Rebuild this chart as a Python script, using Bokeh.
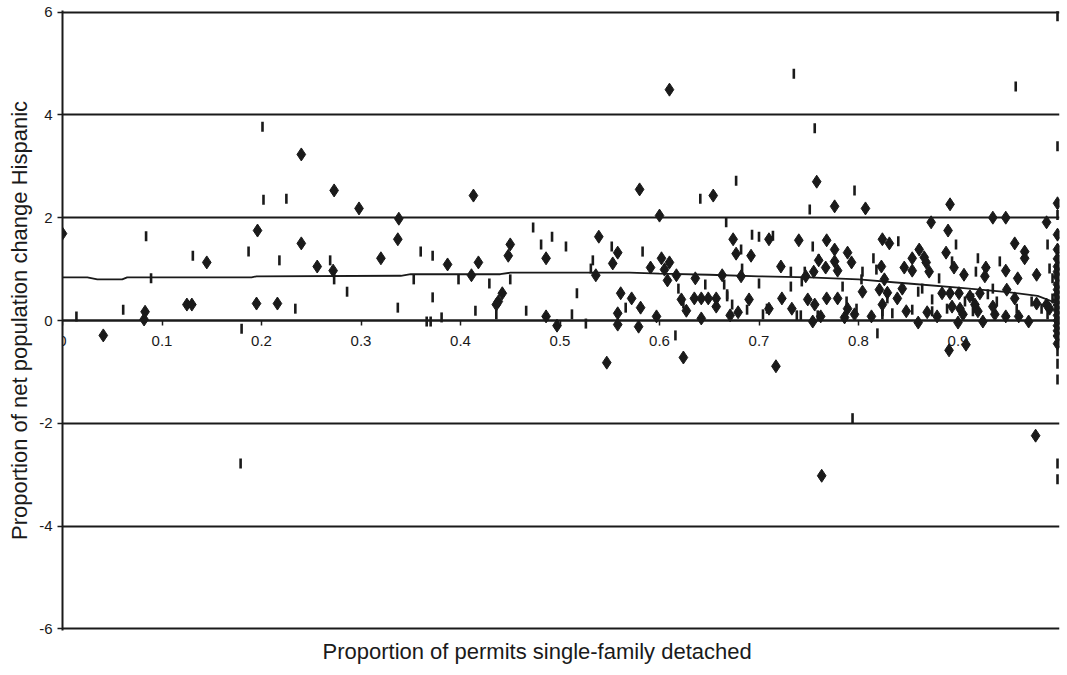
from bokeh.plotting import figure
from bokeh.models import Range1d, FixedTicker, LinearAxis, Title, Grid
from bokeh.embed import file_html
from bokeh.resources import INLINE
import numpy as np

# ---- data ----
diamond_x = [0.000, 0.041, 0.083, 0.082, 0.125, 0.130, 0.145, 0.196, 0.195, 0.216,
             0.240, 0.240, 0.273, 0.298, 0.338, 0.337, 0.320, 0.256, 0.272, 0.387,
             0.413, 0.418, 0.411, 0.450, 0.448, 0.442, 0.438, 0.436, 0.486, 0.486,
             0.497, 0.539, 0.536, 0.580, 0.654, 0.600, 0.610, 0.558, 0.553, 0.602,
             0.610, 0.591, 0.605, 0.608, 0.617, 0.561, 0.572, 0.581, 0.558, 0.558,
             0.579, 0.597, 0.636, 0.663, 0.622, 0.627, 0.635, 0.642, 0.649, 0.657,
             0.657, 0.642, 0.624, 0.547, 0.758, 0.776, 0.807, 0.674, 0.677, 0.692,
             0.710, 0.740, 0.768, 0.776, 0.789, 0.793, 0.776, 0.722, 0.760, 0.767,
             0.779, 0.682, 0.747, 0.755, 0.690, 0.723, 0.749, 0.756, 0.768, 0.779,
             0.733, 0.710, 0.679, 0.671, 0.754, 0.762, 0.786, 0.796, 0.804, 0.813,
             0.824, 0.821, 0.823, 0.824, 0.826, 0.789, 0.717, 0.763, 0.892, 1.000,
             0.873, 0.935, 0.948, 0.989, 0.890, 1.000, 0.831, 0.957, 0.861, 0.888,
             0.967, 0.967, 0.854, 0.866, 0.868, 0.846, 0.854, 0.871, 0.896, 0.906,
             0.928, 0.927, 0.948, 0.979, 0.960, 0.844, 0.829, 0.839, 0.884, 0.892,
             0.901, 0.912, 0.922, 0.949, 0.957, 0.848, 0.869, 0.879, 0.894, 0.902,
             0.905, 0.917, 0.920, 0.925, 0.935, 0.937, 0.860, 0.900, 0.948, 0.961,
             0.971, 0.979, 0.989, 0.992, 0.891, 0.908, 0.978,
             1.000, 1.000, 1.000, 1.000, 1.000, 1.000, 1.000, 1.000, 1.000, 1.000,
             1.000, 1.000, 1.000, 1.000, 1.000, 1.000, 1.000]
diamond_y = [1.69, -0.29, 0.17, 0.02, 0.31, 0.31, 1.13, 1.75, 0.33, 0.33,
             3.23, 1.50, 2.53, 2.18, 1.98, 1.58, 1.21, 1.05, 0.97, 1.09,
             2.43, 1.13, 0.88, 1.48, 1.26, 0.53, 0.37, 0.31, 1.21, 0.08,
             -0.10, 1.63, 0.88, 2.55, 2.43, 2.04, 4.49, 1.32, 1.11, 1.21,
             1.13, 1.03, 0.99, 0.78, 0.88, 0.53, 0.43, 0.25, 0.14, -0.08,
             -0.12, 0.08, 0.82, 0.88, 0.41, 0.19, 0.43, 0.43, 0.43, 0.43,
             0.27, 0.04, -0.72, -0.82, 2.70, 2.22, 2.18, 1.58, 1.30, 1.26,
             1.58, 1.56, 1.56, 1.38, 1.32, 1.13, 1.15, 1.05, 1.17, 1.03,
             0.97, 0.86, 0.86, 0.95, 0.41, 0.43, 0.41, 0.31, 0.43, 0.43,
             0.23, 0.23, 0.16, 0.10, -0.02, 0.08, 0.06, 0.12, 0.56, 0.08,
             0.31, 0.60, 1.05, 1.58, 0.80, 0.23, -0.89, -3.02, 2.26, 2.28,
             1.91, 2.00, 2.00, 1.91, 1.75, 1.67, 1.50, 1.50, 1.38, 1.32,
             1.34, 1.21, 1.21, 1.23, 1.13, 1.03, 0.97, 0.95, 1.03, 0.89,
             1.03, 0.86, 0.97, 0.89, 0.82, 0.62, 0.54, 0.43, 0.53, 0.53,
             0.53, 0.47, 0.53, 0.60, 0.43, 0.18, 0.16, 0.08, 0.27, 0.23,
             0.12, 0.31, 0.18, -0.02, 0.27, 0.12, -0.04, -0.04, 0.08, 0.08,
             -0.02, 0.33, 0.31, 0.23, -0.58, -0.47, -2.24,
             1.38, 1.20, 1.05, 0.95, 0.85, 0.70, 0.60, 0.50, 0.40, 0.30,
             0.20, 0.10, 0.00, -0.10, -0.20, -0.30, -0.45]

dash_x = [0.014, 0.084, 0.061, 0.089, 0.131, 0.180, 0.187, 0.201, 0.202, 0.225,
          0.218, 0.234, 0.179, 0.269, 0.273, 0.286, 0.337, 0.353, 0.360, 0.372,
          0.372, 0.366, 0.370, 0.381, 0.398, 0.415, 0.429, 0.436, 0.450, 0.466,
          0.473, 0.481, 0.492, 0.506, 0.517, 0.512, 0.526, 0.533, 0.531, 0.552,
          0.583, 0.566, 0.616, 0.619, 0.624, 0.641, 0.646, 0.667, 0.665, 0.668,
          0.677, 0.751, 0.796, 0.693, 0.700, 0.714, 0.682, 0.683, 0.700, 0.732,
          0.732, 0.743, 0.746, 0.754, 0.760, 0.668, 0.673, 0.688, 0.704, 0.708,
          0.738, 0.742, 0.759, 0.784, 0.788, 0.788, 0.798, 0.803, 0.804, 0.815,
          0.818, 0.824, 0.819, 0.735, 0.958, 0.756, 0.794, 0.840, 0.898, 0.942,
          0.920, 0.894, 0.990, 0.860, 0.881, 0.874, 0.907, 0.915, 0.918, 0.935,
          0.939, 0.930, 0.834, 0.854, 0.874, 0.889, 0.915, 0.959, 0.974, 0.984,
          0.990, 0.995, 0.995, 0.992, 0.829, 0.824, 0.864,
          1.000, 1.000, 1.000, 1.000, 1.000, 1.000, 1.000, 1.000, 1.000, 1.000,
          1.000, 1.000]
dash_y = [0.08, 1.64, 0.21, 0.82, 1.26, -0.16, 1.34, 3.77, 2.35, 2.37,
          1.17, 0.23, -2.78, 1.17, 0.80, 0.56, 0.25, 0.80, 1.34, 1.26,
          0.45, -0.02, -0.02, 0.06, 0.80, 0.19, 0.72, 0.12, 0.80, 0.19,
          1.81, 1.48, 1.63, 1.44, 0.53, 0.12, -0.06, 1.17, 1.01, 1.44,
          1.34, 0.25, -0.29, 0.62, 0.33, 2.37, 0.70, 1.91, 0.70, 0.51,
          2.72, 2.16, 2.53, 1.67, 1.63, 1.65, 1.38, 1.01, 0.72, 0.95,
          0.66, 0.76, 0.95, 1.44, 1.19, 0.47, 0.31, 0.21, 0.12, 0.23,
          0.10, 0.10, 0.10, 0.66, 0.37, 0.12, 0.23, 0.80, 0.95, 1.21,
          0.99, 0.12, -0.25, 4.80, 4.55, 3.74, -1.90, 1.54, 1.48, 1.15,
          1.21, 1.15, 1.48, 0.56, 0.82, 0.41, 0.37, 0.43, 0.95, 0.62,
          0.37, 0.51, 0.14, 0.21, 0.18, 0.23, 0.18, 0.23, 0.37, 0.23,
          0.12, 0.43, 0.82, 1.01, 0.43, 0.18, 0.62,
          5.92, 3.39, 2.05, 1.34, 1.00, 0.60, 0.20, -0.60, -0.84, -1.15,
          -2.78, -3.09]

trend_x = [0.0, 0.025, 0.035, 0.06, 0.065, 0.19, 0.195, 0.34, 0.35, 0.44, 0.45,
           0.57, 0.60, 0.65, 0.70, 0.75, 0.80, 0.85, 0.90, 0.95, 0.98, 1.0]
trend_y = [0.84, 0.84, 0.80, 0.80, 0.84, 0.84, 0.86, 0.87, 0.90, 0.90, 0.93,
           0.93, 0.91, 0.89, 0.86, 0.84, 0.80, 0.72, 0.64, 0.55, 0.48, 0.33]

x_ticks = [0.0, 0.1, 0.2, 0.3, 0.4, 0.5, 0.6, 0.7, 0.8, 0.9]
x_tick_labels = ["0", "0.1", "0.2", "0.3", "0.4", "0.5", "0.6", "0.7", "0.8", "0.9"]
y_ticks = [-6, -4, -2, 0, 2, 4, 6]
y_tick_labels = ["-6", "-4", "-2", "0", "2", "4", "6"]

x_title = "Proportion of permits single-family detached"
y_title = "Proportion of net population change Hispanic"

FONT = "Liberation Sans"
INK = "#1a1a1a"

p = figure(width=1067, height=675, output_backend="svg", toolbar_location=None,
           x_range=Range1d(0, 1.002), y_range=Range1d(-6.03, 6.03),
           x_axis_location=None, y_axis_location=None,
           min_border_left=62, min_border_right=8, min_border_top=10, min_border_bottom=45)
p.outline_line_color = None
p.background_fill_color = "white"
p.border_fill_color = "white"
for g in p.grid:
    g.visible = False

ygrid = Grid(dimension=1, ticker=FixedTicker(ticks=y_ticks),
             grid_line_color=INK, grid_line_width=2)
p.add_layout(ygrid, "center")

yaxis = LinearAxis(ticker=FixedTicker(ticks=y_ticks), axis_label=y_title)
yaxis.major_label_overrides = {t: l for t, l in zip(y_ticks, y_tick_labels)}
yaxis.axis_line_color = INK
yaxis.axis_line_width = 2
yaxis.major_tick_line_color = INK
yaxis.major_tick_line_width = 1.5
yaxis.major_tick_out = 5
yaxis.major_tick_in = 0
yaxis.minor_tick_line_color = None
yaxis.major_label_text_font = FONT
yaxis.major_label_text_font_size = "15px"
yaxis.major_label_text_color = INK
yaxis.major_label_standoff = 5
yaxis.axis_label_text_font = FONT
yaxis.axis_label_text_font_size = "22px"
yaxis.axis_label_text_font_style = "normal"
yaxis.axis_label_text_color = INK
yaxis.axis_label_standoff = 4
p.add_layout(yaxis, "left")

xaxis = LinearAxis(ticker=FixedTicker(ticks=x_ticks), fixed_location=0)
xaxis.major_label_overrides = {t: l for t, l in zip(x_ticks, x_tick_labels)}
xaxis.axis_line_color = INK
xaxis.axis_line_width = 2
xaxis.major_tick_line_color = INK
xaxis.major_tick_line_width = 1.5
xaxis.major_tick_out = 5
xaxis.major_tick_in = 0
xaxis.minor_tick_line_color = None
xaxis.major_label_text_font = FONT
xaxis.major_label_text_font_size = "15px"
xaxis.major_label_text_color = INK
xaxis.major_label_standoff = 10
p.add_layout(xaxis, "below")

p.add_layout(Title(text=x_title, align="left", offset=260, text_font=FONT,
                   text_font_size="22px", text_font_style="normal", text_color=INK,
                   standoff=13), "below")

p.line(trend_x, trend_y, line_color=INK, line_width=1.8)
p.scatter(dash_x, dash_y, marker="dash", size=10, angle=np.pi / 2,
          line_color=INK, line_width=2.6)
p.scatter(diamond_x, diamond_y, marker="diamond", size=13,
          fill_color=INK, line_color=INK, line_width=1)

open("out.html", "w").write(file_html(p, INLINE))
